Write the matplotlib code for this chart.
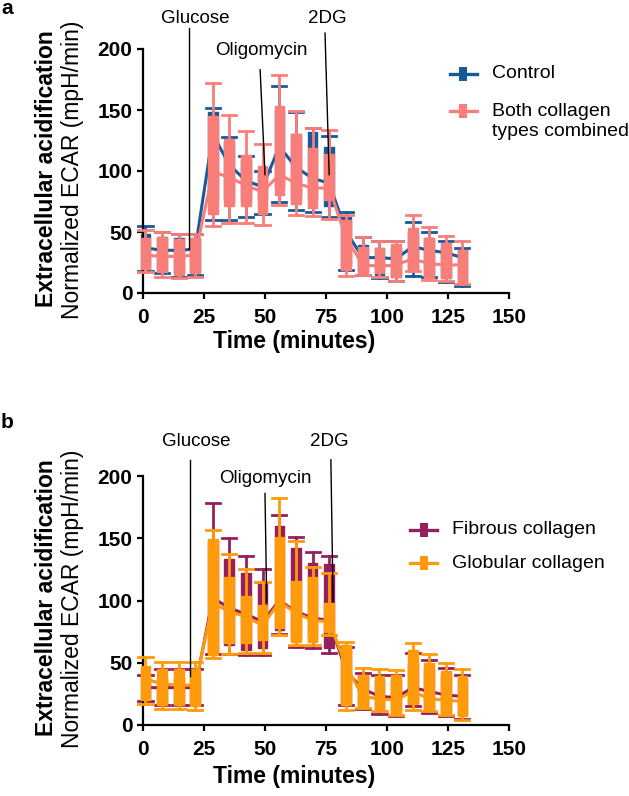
import matplotlib
matplotlib.use("Agg")
import matplotlib.pyplot as plt
from matplotlib.lines import Line2D

plt.rcParams['font.family'] = ['Liberation Sans', 'DejaVu Sans']

W, H = 629, 796

# ---------------- data ----------------
times = [1.0, 7.8, 14.6, 21.4, 28.6, 35.4, 42.2, 49.0, 55.9, 62.7,
         69.5, 76.3, 83.3, 90.1, 96.9, 103.7, 110.5, 117.3, 124.1, 130.9]

# Panel a: Control
ctrl_whi = [55, 50, 48, 48, 152, 128, 112, 100, 170, 148, 135, 129, 66, 46, 43, 43, 58, 50, 43, 37]
ctrl_bhi = [48, 46, 45, 45, 148, 124, 110, 98, 150, 130, 132, 120, 62, 39, 37, 37, 50, 45, 38, 35]
ctrl_mid = [37, 35, 35, 36, 130, 105, 92, 87, 120, 103, 94, 90, 50, 29, 29, 28, 38, 35, 33, 29]
ctrl_blo = [20, 18, 16, 17, 76, 76, 76, 76, 88, 78, 76, 71, 22, 18, 15, 13, 19, 15, 12, 9]
ctrl_wlo = [18, 16, 13, 15, 60, 60, 62, 65, 75, 68, 66, 62, 19, 15, 12, 10, 14, 13, 9, 6]

# Panel a: Both collagen types combined
comb_whi = [52, 50, 48, 48, 172, 146, 133, 122, 179, 149, 135, 134, 64, 46, 43, 43, 64, 54, 47, 43]
comb_bhi = [45, 46, 44, 45, 145, 126, 113, 104, 153, 130, 119, 114, 60, 38, 37, 40, 53, 45, 41, 35]
comb_mid = [31, 30, 30, 31, 99, 95, 88, 83, 97, 90, 86, 86, 45, 23, 22, 23, 28, 24, 23, 23]
comb_blo = [20, 17, 15, 16, 65, 71, 71, 65, 80, 73, 70, 76, 19, 16, 16, 13, 20, 12, 12, 9]
comb_wlo = [17, 13, 12, 13, 55, 57, 57, 56, 72, 64, 63, 61, 14, 15, 13, 10, 18, 11, 10, 7]

# Panel b: Fibrous collagen
fib_whi = [40, 45, 45, 45, 178, 150, 136, 125, 169, 151, 139, 136, 63, 42, 40, 40, 58, 52, 46, 40]
fib_bhi = [38, 38, 38, 38, 148, 133, 122, 114, 160, 142, 130, 129, 63, 40, 36, 36, 50, 45, 40, 35]
fib_mid = [30, 30, 30, 30, 102, 94, 89, 83, 100, 91, 86, 84, 43, 29, 23, 22, 30, 27, 24, 23]
fib_blo = [21, 17, 17, 17, 58, 64, 60, 62, 76, 70, 70, 62, 17, 15, 11, 10, 16, 13, 10, 8]
fib_wlo = [19, 16, 16, 16, 57, 57, 56, 56, 73, 63, 62, 58, 16, 13, 9, 7, 15, 10, 7, 5]

# Panel b: Globular collagen
glob_whi = [55, 51, 51, 51, 157, 137, 125, 115, 182, 148, 127, 122, 67, 46, 45, 44, 66, 57, 50, 45]
glob_bhi = [47, 45, 45, 45, 149, 119, 104, 96, 151, 116, 119, 98, 64, 40, 39, 40, 60, 50, 43, 39]
glob_mid = [37, 33, 32, 32, 98, 91, 87, 80, 99, 90, 84, 83, 47, 23, 21, 20, 27, 21, 20, 19]
glob_blo = [20, 16, 16, 15, 56, 66, 66, 68, 78, 67, 67, 75, 16, 15, 12, 9, 17, 12, 9, 7]
glob_wlo = [17, 13, 13, 12, 54, 57, 58, 58, 72, 64, 64, 72, 12, 14, 11, 8, 12, 11, 8, 4]

x_ticks = [0, 25, 50, 75, 100, 125, 150]
y_ticks = [0, 50, 100, 150, 200]

BLUE = '#165A9A'
PINK = '#F97E79'
PURPLE = '#951F5D'
ORANGE = '#FF9A0A'

fig = plt.figure(figsize=(W / 100, H / 100), dpi=100)


def fx(x):
    return x / W


def fy(y):
    return 1 - y / H


def draw_series(ax, wlo, blo, mid, bhi, whi, color, z):
    stats = [dict(med=m, q1=b1, q3=b2, whislo=w1, whishi=w2, fliers=[])
             for w1, b1, m, b2, w2 in zip(wlo, blo, mid, bhi, whi)]
    art = ax.bxp(stats, positions=times, widths=4.0, capwidths=5.8,
                 patch_artist=True, showfliers=False, manage_ticks=False,
                 boxprops=dict(facecolor=color, edgecolor=color, linewidth=1),
                 whiskerprops=dict(color=color, linewidth=2.0),
                 capprops=dict(color=color, linewidth=2.0),
                 medianprops=dict(color=color, linewidth=0))
    for key in ('boxes', 'whiskers', 'caps', 'medians'):
        for a in art[key]:
            a.set_zorder(z)
            a.set_clip_on(False)
    ax.plot(times, mid, color=color, lw=2.2, zorder=z + 0.5, clip_on=False)


def style_axes(ax):
    ax.set_xlim(0, 150)
    ax.set_ylim(0, 200)
    ax.set_xticks(x_ticks)
    ax.set_yticks(y_ticks)
    ax.spines['top'].set_visible(False)
    ax.spines['right'].set_visible(False)
    for s in ('left', 'bottom'):
        ax.spines[s].set_linewidth(1.6)
    ax.tick_params(axis='both', width=1.6, length=4.5, labelsize=15)
    ax.tick_params(axis='x', pad=6)
    ax.tick_params(axis='y', pad=3)
    for lab in ax.get_xticklabels() + ax.get_yticklabels():
        lab.set_fontweight('bold')


def annotate(ax, text, tx, ty, x0, y0, x1, y1):
    ax.text(tx, ty, text, ha='center', va='center', fontsize=13.5, clip_on=False)
    ax.plot([x0, x1], [y0, y1], color='black', lw=1.0, zorder=10, clip_on=False)


RECT = [(-0.6, -1), (0.6, -1), (0.6, 1), (-0.6, 1), (-0.6, -1)]


def legend_entry(xh0, xh1, y, color, label, xt):
    fig.add_artist(Line2D([fx(xh0), fx(xh1)], [fy(y), fy(y)], color=color, lw=2.4,
                          transform=fig.transFigure))
    fig.add_artist(Line2D([fx((xh0 + xh1) / 2)], [fy(y)], color=color, marker=RECT,
                          markersize=10, markeredgewidth=0, linestyle='none',
                          transform=fig.transFigure))
    fig.text(fx(xt), fy(y), label, ha='left', va='center', fontsize=14)


# ---------------- panel a ----------------
axa = fig.add_axes([fx(143), fy(293), fx(366), 244 / H])
draw_series(axa, ctrl_wlo, ctrl_blo, ctrl_mid, ctrl_bhi, ctrl_whi, BLUE, 2)
draw_series(axa, comb_wlo, comb_blo, comb_mid, comb_bhi, comb_whi, PINK, 4)
style_axes(axa)
annotate(axa, 'Glucose', 21.3, 225, 19.0, 217, 19.0, 36)
annotate(axa, 'Oligomycin', 48.6, 199, 48.0, 183, 50.0, 97)
annotate(axa, '2DG', 75.4, 225, 74.6, 213, 76.3, 97)

fig.text(fx(47), fy(169), 'Extracellular acidification', rotation=90,
         ha='center', va='center', fontsize=16.5, fontweight='bold')
fig.text(fx(73), fy(170), 'Normalized ECAR (mpH/min)', rotation=90,
         ha='center', va='center', fontsize=16.5)
fig.text(fx(294), fy(342), 'Time (minutes)', ha='center', va='center',
         fontsize=16.5, fontweight='bold')
fig.text(fx(1), fy(8), 'a', ha='left', va='center', fontsize=15, fontweight='bold')

legend_entry(450, 477, 74, BLUE, 'Control', 492)
legend_entry(450, 477, 111, PINK, 'Both collagen', 492)
fig.text(fx(492), fy(132), 'types combined', ha='left', va='center', fontsize=14)

# ---------------- panel b ----------------
axb = fig.add_axes([fx(143), fy(725), fx(366), 249 / H])
draw_series(axb, fib_wlo, fib_blo, fib_mid, fib_bhi, fib_whi, PURPLE, 2)
draw_series(axb, glob_wlo, glob_blo, glob_mid, glob_bhi, glob_whi, ORANGE, 4)
style_axes(axb)
annotate(axb, 'Glucose', 22.0, 228, 19.3, 213, 19.3, 39)
annotate(axb, 'Oligomycin', 50.3, 198, 50.0, 186, 50.7, 99)
annotate(axb, '2DG', 76.5, 228, 77.0, 213, 77.9, 99)

fig.text(fx(47), fy(598), 'Extracellular acidification', rotation=90,
         ha='center', va='center', fontsize=16.5, fontweight='bold')
fig.text(fx(73), fy(599), 'Normalized ECAR (mpH/min)', rotation=90,
         ha='center', va='center', fontsize=16.5)
fig.text(fx(294), fy(776), 'Time (minutes)', ha='center', va='center',
         fontsize=16.5, fontweight='bold')
fig.text(fx(1), fy(423), 'b', ha='left', va='center', fontsize=15, fontweight='bold')

legend_entry(410, 437, 530, PURPLE, 'Fibrous collagen', 452)
legend_entry(410, 437, 563, ORANGE, 'Globular collagen', 452)

fig.savefig('out.png', dpi=100)
